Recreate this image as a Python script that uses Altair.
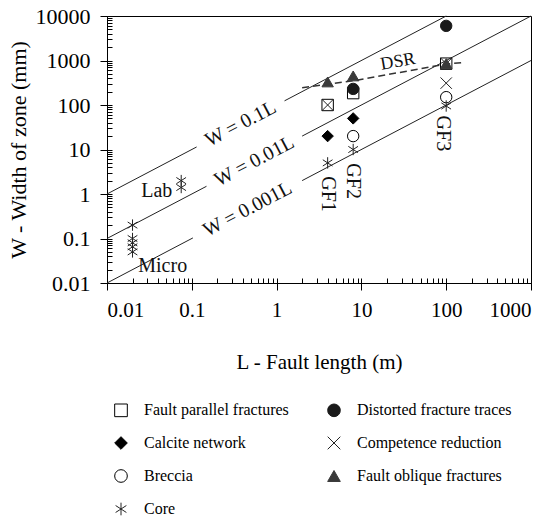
import altair as alt
import pandas as pd

# ---- reference lines W = kL (two pieces each, gap for the label) ----
ref_seg = ["a1", "a1", "a2", "a2", "b1", "b1", "b2", "b2", "c1", "c1", "c2", "c2"]
ref_L = [0.01, 0.114, 1.24, 100, 0.01, 0.149, 2.0, 1000, 0.01, 0.103, 2.0, 1000]
ref_W = [1, 11.4, 124, 10000, 0.1, 1.49, 20, 10000, 0.01, 0.103, 2.0, 1000]

# ---- DSR dashed trend ----
dsr_L = [2, 8, 100, 155]
dsr_W = [245, 350, 830, 900]

# ---- observations ----
cats = [
    "Fault parallel fractures", "Calcite network", "Breccia", "Core",
    "Distorted fracture traces", "Competence reduction", "Fault oblique fractures",
]
obs_cat = (["Fault parallel fractures"] * 3 + ["Distorted fracture traces"] * 2 +
           ["Calcite network"] * 2 + ["Competence reduction"] * 3 +
           ["Breccia"] * 2 + ["Fault oblique fractures"] * 3 + ["Core"] * 10)
obs_L = [4, 8, 100,
         8, 100,
         4, 8,
         4, 100, 100,
         8, 100,
         4, 8, 100,
         4, 8, 100, 0.075, 0.075, 0.02, 0.02, 0.02, 0.02, 0.02]
obs_W = [100, 185, 850,
         230, 6000,
         20, 50,
         100, 850, 310,
         20, 150,
         330, 450, 850,
         5, 10, 95, 2.0, 1.4, 0.2, 0.1, 0.08, 0.065, 0.05]

ASTER = "M0,-1L0,1M-0.85,-0.55L0.85,0.55M-0.85,0.55L0.85,-0.55"
CROSS = "M-1,-1L1,1M-1,1L1,-1"
shapes = ["square", "diamond", "circle", ASTER, "circle", CROSS, "triangle-up"]
fills = ["transparent", "#000000", "transparent", "transparent", "#1a1a1a", "transparent", "#3a3a3a"]
strokes = ["#000000", "#000000", "#000000", "#222222", "#1a1a1a", "#222222", "#3a3a3a"]

# ---- annotations ----
ann_text = ["W = 0.1L", "W = 0.01L", "W = 0.001L", "GF1", "GF2", "GF3", "DSR", "Lab", "Micro"]
ann_L = [0.376, 0.546, 0.454, 4, 8, 92, 27, 0.0386, 0.0454]
ann_W = [37.6, 5.46, 0.454, 1.0, 1.95, 23, 930, 1.16, 0.0237]
ann_angle = [332.3, 332.3, 332.3, 90, 90, 90, 350, 0, 0]
ann_size = [20, 20, 20, 20, 20, 20, 18, 20, 20]

x_major = [0.01, 0.1, 1, 10, 100, 1000]
y_major = [0.01, 0.1, 1, 10, 100, 1000, 10000]
x_minor = [m * 10.0 ** e for e in range(-2, 3) for m in range(1, 10)] + [1000]
y_minor = [m * 10.0 ** e for e in range(-2, 4) for m in range(1, 10)] + [10000]

FONT = "Times New Roman, Liberation Serif, serif"

ref_df = pd.DataFrame({"seg": ref_seg, "L": ref_L, "W": ref_W})
dsr_df = pd.DataFrame({"L": dsr_L, "W": dsr_W})
obs_df = pd.DataFrame({"cat": obs_cat, "L": obs_L, "W": obs_W})
ann_df = pd.DataFrame({"t": ann_text, "L": ann_L, "W": ann_W, "a": ann_angle, "s": ann_size})

xs = alt.Scale(type="log", domain=[0.01, 1000], nice=False)
ys = alt.Scale(type="log", domain=[0.01, 10000], nice=False)

x_main_axis = alt.Axis(values=x_major, format="~g", orient="bottom", grid=False,
                       tickSize=7, tickColor="black", domainColor="black",
                       labelFont=FONT, labelFontSize=21, labelColor="black", labelPadding=9,
                       title="L - Fault length (m)", titleFont=FONT, titleFontSize=21,
                       titleFontWeight="normal", titleColor="black", titlePadding=31)
y_main_axis = alt.Axis(values=y_major, format="~g", orient="left", grid=False,
                       tickSize=7, tickColor="black", domainColor="black",
                       labelFont=FONT, labelFontSize=22, labelColor="black", labelPadding=10,
                       title="W - Width of zone (mm)", titleFont=FONT, titleFontSize=22,
                       titleFontWeight="normal", titleColor="black", titlePadding=5)
x_minor_axis = alt.Axis(values=x_minor, orient="bottom", offset=-5, tickSize=5, labels=False,
                        domain=False, grid=False, title=None, tickColor="black")
y_minor_axis = alt.Axis(values=y_minor, orient="left", offset=-5, tickSize=5, labels=False,
                        domain=False, grid=False, title=None, tickColor="black")

ref_layer = alt.Chart(ref_df).mark_line(color="#222", strokeWidth=1).encode(
    x=alt.X("L:Q", scale=xs, axis=x_main_axis),
    y=alt.Y("W:Q", scale=ys, axis=y_main_axis),
    detail="seg:N",
)

dsr_layer = alt.Chart(dsr_df).mark_line(color="#333", strokeWidth=1.5, strokeDash=[7, 4]).encode(
    x=alt.X("L:Q", scale=xs, axis=None),
    y=alt.Y("W:Q", scale=ys, axis=None),
)

legend = alt.Legend(title=None, orient="none", legendX=6, legendY=386, columns=2,
                    labelFont=FONT, labelFontSize=16, labelColor="black", labelOffset=15,
                    symbolSize=160, symbolStrokeWidth=1, rowPadding=15, columnPadding=36,
                    padding=0)

obs_layer = alt.Chart(obs_df).mark_point(size=130, strokeWidth=1, opacity=1).encode(
    x=alt.X("L:Q", scale=xs, axis=x_minor_axis),
    y=alt.Y("W:Q", scale=ys, axis=y_minor_axis),
    shape=alt.Shape("cat:N", scale=alt.Scale(domain=cats, range=shapes), legend=legend),
    fill=alt.Fill("cat:N", scale=alt.Scale(domain=cats, range=fills), legend=legend),
    stroke=alt.Stroke("cat:N", scale=alt.Scale(domain=cats, range=strokes), legend=legend),
)

ann_layer = alt.Chart(ann_df).mark_text(font=FONT, color="#111", align="center",
                                        baseline="middle").encode(
    x=alt.X("L:Q", scale=xs, axis=None),
    y=alt.Y("W:Q", scale=ys, axis=None),
    text="t:N",
    angle=alt.Angle("a:Q", scale=None),
    size=alt.Size("s:Q", scale=None, legend=None),
)

chart = alt.layer(ref_layer, dsr_layer, obs_layer, ann_layer).resolve_axis(
    x="independent", y="independent"
).properties(
    width=424, height=267,
    padding={"left": 107, "top": 16, "right": 25, "bottom": 234},
    autosize=alt.AutoSizeParams(type="none"),
    background="white",
).configure_view(stroke="black", strokeWidth=1)

chart.save("out.html", embed_options={"renderer": "svg", "actions": False})
